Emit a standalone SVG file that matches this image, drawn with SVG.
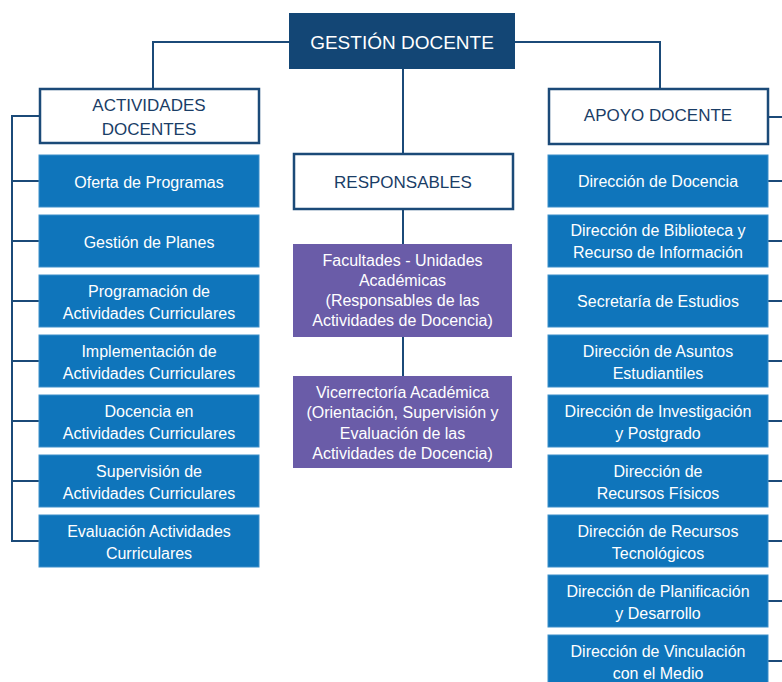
<svg xmlns="http://www.w3.org/2000/svg" width="782" height="682" viewBox="0 0 782 682">
<style>
text{font-family:"Liberation Sans",Arial,sans-serif;text-anchor:middle}
.hd{fill:#1a3d66;font-size:17px}
.wt{fill:#ffffff;font-size:16px}
.top{fill:#134675}
.white{fill:#ffffff;stroke:#1b4a78;stroke-width:2.5}
.blue{fill:#0f75bb;stroke:#3d8fc9;stroke-width:1}
.purple{fill:#6a5ca8}
.conn{fill:none;stroke:#1b4a78;stroke-width:2}
</style>
<g id="connectors" class="conn">
<path d="M289 42H153V88"/>
<path d="M515 42H660V88"/>
<path d="M403 69V153M403 209V244M403 337V376"/>
<path d="M39 116H12V541H39M12 181H39M12 241H39M12 301H39M12 361H39M12 421H39M12 481H39"/>
<path d="M768 117H782M768 181H782M768 241H782M768 301H782M768 361H782M768 421H782M768 481H782M768 541H782M768 601H782M768 661H782"/>
</g>
<g id="gestion"><rect class="top" x="289" y="13" width="226" height="56"/><text class="wt" x="402" y="48.5" style="font-size:19px">GESTIÓN DOCENTE</text></g>
<g id="actividades"><rect class="white" x="40" y="89" width="219" height="54"/><text class="hd" x="149" y="111">ACTIVIDADES</text><text class="hd" x="149" y="135">DOCENTES</text></g>
<g id="apoyo"><rect class="white" x="549" y="89" width="219" height="55"/><text class="hd" x="658" y="121">APOYO DOCENTE</text></g>
<g id="responsables"><rect class="white" x="294" y="154" width="219" height="55"/><text class="hd" x="403" y="187.5">RESPONSABLES</text></g>
<g id="facultades"><rect class="purple" x="293" y="244" width="219" height="93"/><text class="wt" x="402.5" y="265.5">Facultades - Unidades</text><text class="wt" x="402.5" y="286">Académicas</text><text class="wt" x="402.5" y="306">(Responsables de las</text><text class="wt" x="402.5" y="326">Actividades de Docencia)</text></g>
<g id="vicerrectoria"><rect class="purple" x="293" y="376" width="219" height="92"/><text class="wt" x="402.5" y="398">Vicerrectoría Académica</text><text class="wt" x="402.5" y="418">(Orientación, Supervisión y</text><text class="wt" x="402.5" y="438.5">Evaluación de las</text><text class="wt" x="402.5" y="458.5">Actividades de Docencia)</text></g>
<g id="oferta"><rect class="blue" x="39" y="155" width="220" height="52"/><text class="wt" x="149" y="187.5">Oferta de Programas</text></g>
<g id="planes"><rect class="blue" x="39" y="215" width="220" height="52"/><text class="wt" x="149" y="247.5">Gestión de Planes</text></g>
<g id="programacion"><rect class="blue" x="39" y="275" width="220" height="52"/><text class="wt" x="149" y="297">Programación de</text><text class="wt" x="149" y="319">Actividades Curriculares</text></g>
<g id="implementacion"><rect class="blue" x="39" y="335" width="220" height="52"/><text class="wt" x="149" y="357">Implementación de</text><text class="wt" x="149" y="379">Actividades Curriculares</text></g>
<g id="docencia"><rect class="blue" x="39" y="395" width="220" height="52"/><text class="wt" x="149" y="417">Docencia en</text><text class="wt" x="149" y="439">Actividades Curriculares</text></g>
<g id="supervision"><rect class="blue" x="39" y="455" width="220" height="52"/><text class="wt" x="149" y="477">Supervisión de</text><text class="wt" x="149" y="499">Actividades Curriculares</text></g>
<g id="evaluacion"><rect class="blue" x="39" y="515" width="220" height="52"/><text class="wt" x="149" y="537">Evaluación Actividades</text><text class="wt" x="149" y="559">Curriculares</text></g>
<g id="dir-docencia"><rect class="blue" x="548" y="155" width="220" height="52"/><text class="wt" x="658" y="187">Dirección de Docencia</text></g>
<g id="dir-biblioteca"><rect class="blue" x="548" y="215" width="220" height="52"/><text class="wt" x="658" y="236">Dirección de Biblioteca y</text><text class="wt" x="658" y="257.5">Recurso de Información</text></g>
<g id="secretaria"><rect class="blue" x="548" y="275" width="220" height="52"/><text class="wt" x="658" y="307">Secretaría de Estudios</text></g>
<g id="dir-asuntos"><rect class="blue" x="548" y="335" width="220" height="52"/><text class="wt" x="658" y="357">Dirección de Asuntos</text><text class="wt" x="658" y="379">Estudiantiles</text></g>
<g id="dir-investigacion"><rect class="blue" x="548" y="395" width="220" height="52"/><text class="wt" x="658" y="417">Dirección de Investigación</text><text class="wt" x="658" y="439">y Postgrado</text></g>
<g id="dir-fisicos"><rect class="blue" x="548" y="455" width="220" height="52"/><text class="wt" x="658" y="477">Dirección de</text><text class="wt" x="658" y="499">Recursos Físicos</text></g>
<g id="dir-tecnologicos"><rect class="blue" x="548" y="515" width="220" height="52"/><text class="wt" x="658" y="537">Dirección de Recursos</text><text class="wt" x="658" y="559">Tecnológicos</text></g>
<g id="dir-planificacion"><rect class="blue" x="548" y="575" width="220" height="52"/><text class="wt" x="658" y="597">Dirección de Planificación</text><text class="wt" x="658" y="619">y Desarrollo</text></g>
<g id="dir-vinculacion"><rect class="blue" x="548" y="635" width="220" height="52"/><text class="wt" x="658" y="657">Dirección de Vinculación</text><text class="wt" x="658" y="679">con el Medio</text></g>
</svg>
